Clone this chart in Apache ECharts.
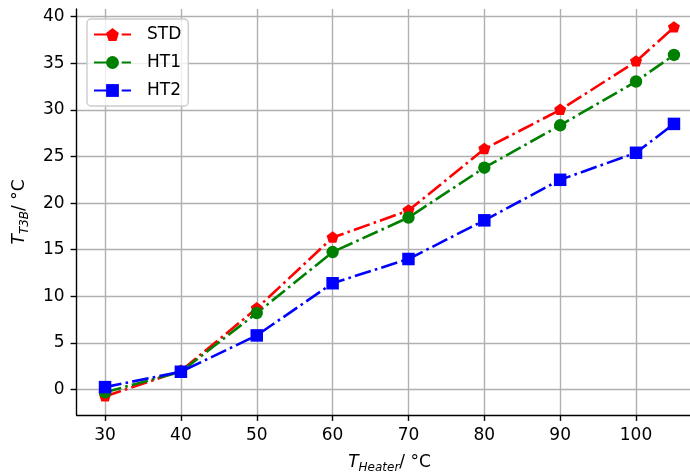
<!DOCTYPE html>
<html>
<head>
<meta charset="utf-8">
<script src="https://cdn.jsdelivr.net/npm/echarts@6/dist/echarts.min.js"></script>
<style>
  html, body { margin: 0; padding: 0; background: #fff; }
  #chart { width: 690px; height: 474px; }
</style>
</head>
<body>
<div id="chart"></div>
<script>
// Heater temperature (°C) against measured T3B temperature for three samples
const heaterTemps = [30, 40, 50, 60, 70, 80, 90, 100, 105];
const stdValues = [-0.75, 2.0, 8.7, 16.3, 19.2, 25.8, 30.0, 35.2, 38.85];
const ht1Values = [-0.3, 1.9, 8.2, 14.75, 18.45, 23.8, 28.35, 33.05, 35.9];
const ht2Values = [0.25, 1.9, 5.8, 11.4, 14.0, 18.15, 22.5, 25.4, 28.5];

const xTickValues = [30, 40, 50, 60, 70, 80, 90, 100];
const yTickValues = [0, 5, 10, 15, 20, 25, 30, 35, 40];

const FONT = 'DejaVu Sans';
const LINE_W = 2.6;
const DASH_DOT = [16.7, 4.2, 2.6, 4.2];
const PENTAGON = 'path://M0,-1L0.951,-0.309L0.588,0.809L-0.588,0.809L-0.951,-0.309Z';

// 5% padding around the data on both axes
function paddedRange(values) {
  const lo = Math.min(...values), hi = Math.max(...values);
  const pad = (hi - lo) * 0.05;
  return [lo - pad, hi + pad];
}
const xRange = paddedRange(heaterTemps);
const yRange = paddedRange(stdValues.concat(ht1Values, ht2Values));

function pairs(ys) { return heaterTemps.map((x, i) => [x, ys[i]]); }

function makeSeries(name, ys, color, symbol, size, offset) {
  return {
    name: name,
    type: 'line',
    data: pairs(ys),
    symbol: symbol,
    symbolSize: size,
    symbolOffset: offset || [0, 0],
    showAllSymbol: true,
    clip: true,
    lineStyle: { color: color, width: LINE_W, type: DASH_DOT },
    itemStyle: { color: color, borderColor: color, borderWidth: 0 },
    emphasis: { disabled: true },
    animation: false
  };
}

const axisNameRich = {
  i: { fontFamily: FONT, fontStyle: 'italic', fontSize: 17, color: '#000' },
  sub: { fontFamily: FONT, fontStyle: 'italic', fontSize: 12, color: '#000', padding: [10, 0, 0, 0] },
  n: { fontFamily: FONT, fontSize: 17, color: '#000' }
};

const chart = echarts.init(document.getElementById('chart'), null, { renderer: 'canvas' });
chart.setOption({
  backgroundColor: '#ffffff',
  animation: false,
  grid: {
    left: 76.6, top: 9, width: 625.8, height: 405.9,
    containLabel: false,
    outerBoundsMode: 'none'
  },
  xAxis: {
    type: 'value',
    min: xRange[0],
    max: xRange[1],
    name: '{i|T}{sub|Heater}{n|/ °C}',
    nameLocation: 'middle',
    nameGap: 37,
    nameTextStyle: { rich: axisNameRich },
    axisLine: { show: true, onZero: false, lineStyle: { color: '#000', width: 1.4 } },
    axisTick: { show: true, customValues: xTickValues, length: 6, lineStyle: { color: '#000', width: 1.4 } },
    axisLabel: { customValues: xTickValues, margin: 12, fontFamily: FONT, fontSize: 17, color: '#000' },
    splitLine: { show: true, lineStyle: { color: '#b0b0b0', width: 1.4 } }
  },
  yAxis: {
    type: 'value',
    min: yRange[0],
    max: yRange[1],
    name: '{i|T}{sub|T3B}{n|/ °C}',
    nameLocation: 'middle',
    nameGap: 46,
    nameRotate: 90,
    nameTextStyle: { rich: axisNameRich },
    axisLine: { show: true, onZero: false, lineStyle: { color: '#000', width: 1.4 } },
    axisTick: { show: true, customValues: yTickValues, length: 6, lineStyle: { color: '#000', width: 1.4 } },
    axisLabel: { customValues: yTickValues, margin: 12, fontFamily: FONT, fontSize: 17, color: '#000' },
    splitLine: { show: true, lineStyle: { color: '#b0b0b0', width: 1.4 } }
  },
  legend: {
    orient: 'vertical',
    left: 87,
    top: 19,
    padding: [7, 7, 7, 6],
    itemWidth: 37,
    itemHeight: 16,
    itemGap: 11,
    backgroundColor: 'rgba(255,255,255,0.8)',
    borderColor: '#cccccc',
    borderWidth: 1.4,
    borderRadius: 4,
    textStyle: { fontFamily: FONT, fontSize: 17, color: '#000', padding: [0, 0, 0, 11] },
    data: ['STD', 'HT1', 'HT2']
  },
  series: [
    makeSeries('STD', stdValues, '#ff0000', PENTAGON, [12, 11.4], [0, -0.6]),
    makeSeries('HT1', ht1Values, '#008000', 'circle', 12.4),
    makeSeries('HT2', ht2Values, '#0000ff', 'rect', 12.5)
  ]
});
</script>
</body>
</html>
